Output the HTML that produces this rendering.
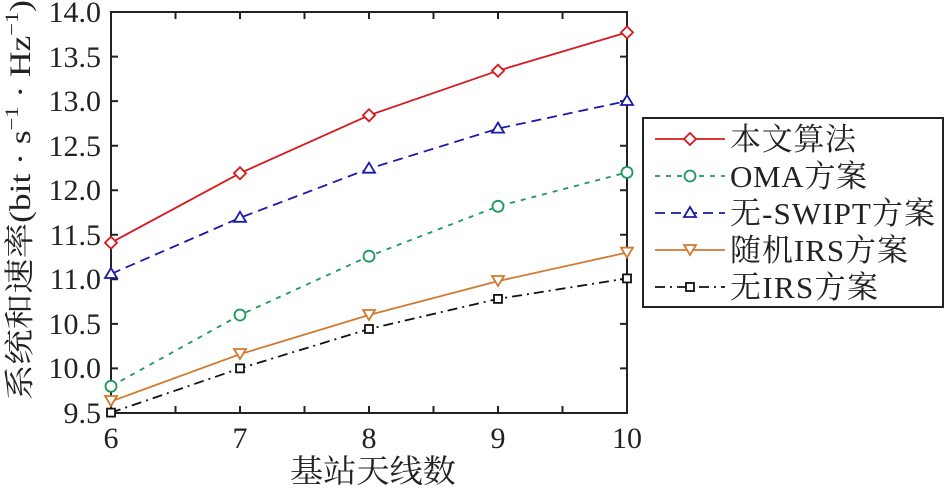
<!DOCTYPE html>
<html><head><meta charset="utf-8"><style>body{margin:0;background:#fff}svg{display:block}text{font-family:"Liberation Serif","Noto Serif CJK SC",serif;fill:#222}</style></head>
<body>
<svg width="946" height="492" viewBox="0 0 946 492" xmlns="http://www.w3.org/2000/svg">
<g stroke="#222" stroke-width="2" fill="none">
<rect x="111" y="12" width="516" height="401"/>
<path d="M175.5 413v-7M240 413v-7M304.5 413v-7M369 413v-7M433.5 413v-7M498 413v-7M562.5 413v-7
M175.5 12v7M240 12v7M304.5 12v7M369 12v7M433.5 12v7M498 12v7M562.5 12v7
M111 56.6h7M111 101.1h7M111 145.7h7M111 190.2h7M111 234.8h7M111 279.3h7M111 323.9h7M111 368.4h7
M627 56.6h-7M627 101.1h-7M627 145.7h-7M627 190.2h-7M627 234.8h-7M627 279.3h-7M627 323.9h-7M627 368.4h-7"/>
</g>
<g font-size="30" text-anchor="end">
<text x="101" y="22">14.0</text><text x="101" y="67">13.5</text><text x="101" y="111">13.0</text><text x="101" y="156">12.5</text><text x="101" y="200">12.0</text><text x="101" y="245">11.5</text><text x="101" y="289">11.0</text><text x="101" y="334">10.5</text><text x="101" y="378">10.0</text><text x="101" y="423">9.5</text>
</g>
<g font-size="30" text-anchor="middle">
<text x="111" y="448">6</text><text x="240" y="448">7</text><text x="369" y="448">8</text><text x="498" y="448">9</text><text x="627" y="448">10</text>
</g>
<text x="290" y="482" font-size="32" textLength="166" lengthAdjust="spacingAndGlyphs">基站天线数</text>
<text transform="translate(30,400) rotate(-90)" font-size="30" textLength="400" lengthAdjust="spacingAndGlyphs">系统和速率(bit · s<tspan font-size="19" dy="-12">−1</tspan><tspan dy="12"> · Hz</tspan><tspan font-size="19" dy="-12">−1</tspan><tspan dy="12">)</tspan></text>
<g fill="#fff" stroke-width="1.8">
<polyline points="111,242.7 240,173.2 369,115.3 498,70.7 627,32.4" fill="none" stroke="#d7191c"/>
<g stroke="#d7191c"><path d="M111 236.7l6 6-6 6-6-6z"/><path d="M240 167.2l6 6-6 6-6-6z"/><path d="M369 109.3l6 6-6 6-6-6z"/><path d="M498 64.7l6 6-6 6-6-6z"/><path d="M627 26.4l6 6-6 6-6-6z"/></g>
<polyline points="111,273.9 240,217.8 369,168.7 498,128.6 627,101.0" fill="none" stroke="#1a1aa8" stroke-dasharray="10,6"/>
<g stroke="#1a1aa8"><path d="M111 268l6 10h-12z"/><path d="M240 211.8l6 10h-12z"/><path d="M369 162.7l6 10h-12z"/><path d="M498 122.6l6 10h-12z"/><path d="M627 95l6 10h-12z"/></g>
<polyline points="111,386.3 240,315.0 369,256.2 498,206.3 627,172.4" fill="none" stroke="#1a9a5a" stroke-dasharray="5,6"/>
<g stroke="#1a9a5a"><circle cx="111" cy="386.3" r="5.5"/><circle cx="240" cy="315" r="5.5"/><circle cx="369" cy="256.2" r="5.5"/><circle cx="498" cy="206.3" r="5.5"/><circle cx="627" cy="172.4" r="5.5"/></g>
<polyline points="111,401.4 240,354.2 369,315.0 498,281.1 627,252.6" fill="none" stroke="#d07a2f"/>
<g stroke="#d07a2f"><path d="M105 396h12l-6 10z"/><path d="M234 349h12l-6 10z"/><path d="M363 310h12l-6 10z"/><path d="M492 276h12l-6 10z"/><path d="M621 247.6h12l-6 10z"/></g>
<polyline points="111,412.6 240,368.4 369,329.0 498,298.9 627,278.4" fill="none" stroke="#111" stroke-dasharray="10,5,2,5"/>
<g stroke="#111"><rect x="107" y="408.6" width="8" height="8"/><rect x="236" y="364.4" width="8" height="8"/><rect x="365" y="325" width="8" height="8"/><rect x="494" y="294.9" width="8" height="8"/><rect x="623" y="274.4" width="8" height="8"/></g>
</g>
<rect x="643" y="118" width="300" height="189" fill="#fff" stroke="#222" stroke-width="2"/>
<g stroke-width="1.8" fill="#fff">
<line x1="655" y1="139" x2="725" y2="139" stroke="#d7191c"/><path d="M690 133l6 6-6 6-6-6z" stroke="#d7191c"/>
<line x1="655" y1="176" x2="725" y2="176" stroke="#1a9a5a" stroke-dasharray="5,6"/><circle cx="690" cy="176" r="5.5" stroke="#1a9a5a"/>
<line x1="655" y1="213" x2="725" y2="213" stroke="#1a1aa8" stroke-dasharray="10,6"/><path d="M690 207l6 10h-12z" stroke="#1a1aa8"/>
<line x1="655" y1="250" x2="725" y2="250" stroke="#d07a2f"/><path d="M684 245h12l-6 10z" stroke="#d07a2f"/>
<line x1="655" y1="287" x2="725" y2="287" stroke="#111" stroke-dasharray="10,5,2,5"/><rect x="686" y="283" width="8" height="8" stroke="#111"/>
</g>
<g font-size="31" lengthAdjust="spacingAndGlyphs">
<text x="730" y="150" textLength="126">本文算法</text><text x="730" y="187" textLength="137">OMA方案</text><text x="730" y="224" textLength="205">无-SWIPT方案</text><text x="730" y="261" textLength="178">随机IRS方案</text><text x="730" y="298" textLength="148">无IRS方案</text>
</g>
</svg>
</body></html>
